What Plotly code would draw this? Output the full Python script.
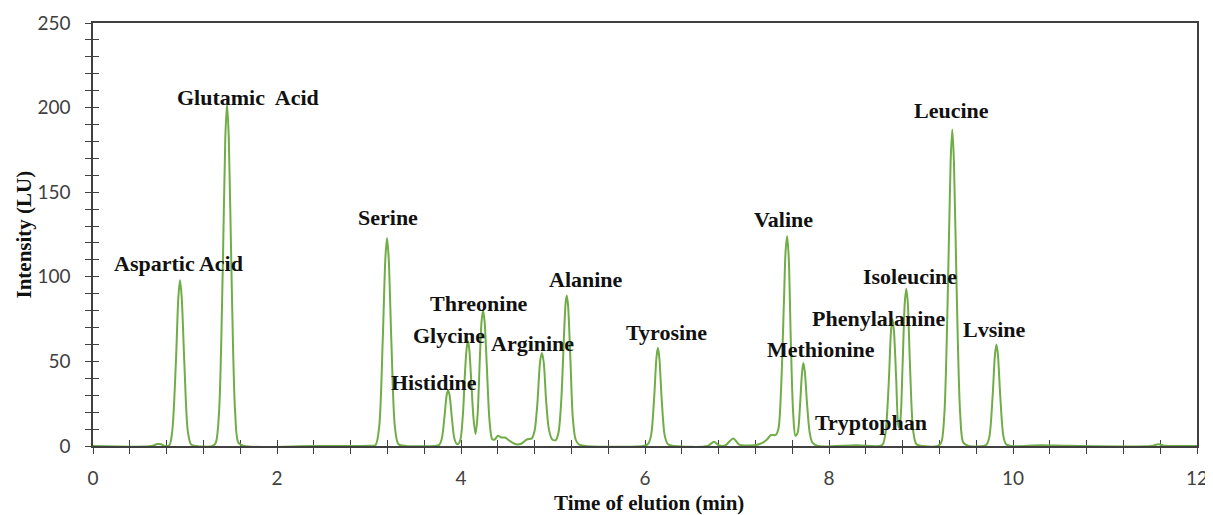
import plotly.graph_objects as go

# ---- chromatogram trace (time in min, intensity in LU) ----
time_min = [
    0.00, 0.64, 0.70, 0.74, 0.78,
    0.83, 0.86, 0.90, 0.928, 0.946, 0.964, 0.993, 1.03, 1.065, 1.12,
    1.30, 1.335, 1.37, 1.41, 1.438, 1.457, 1.476, 1.505, 1.545, 1.58, 1.64,
    2.40, 3.00,
    3.07, 3.11, 3.149, 3.178, 3.196, 3.214, 3.243, 3.282, 3.32, 3.40,
    3.70,
    3.76, 3.79, 3.82, 3.844, 3.86, 3.876, 3.90, 3.93, 3.96,
    3.99, 4.02, 4.045, 4.062, 4.076, 4.09, 4.112, 4.135, 4.158,
    4.18, 4.205, 4.224, 4.24, 4.256, 4.28, 4.31, 4.34,
    4.37, 4.40, 4.44, 4.48, 4.53, 4.60, 4.66, 4.72, 4.77,
    4.80, 4.83, 4.86, 4.88, 4.90, 4.925, 4.955, 4.99, 5.03,
    5.06, 5.09, 5.12, 5.138, 5.15, 5.164, 5.19, 5.215, 5.245, 5.28, 5.35,
    5.98,
    6.03, 6.065, 6.10, 6.124, 6.14, 6.156, 6.18, 6.215, 6.25, 6.32,
    6.68, 6.75, 6.80, 6.87, 6.96, 7.02, 7.10, 7.24, 7.32, 7.37, 7.42,
    7.45, 7.48, 7.51, 7.528, 7.545, 7.562, 7.585, 7.61, 7.635,
    7.66, 7.685, 7.705, 7.72, 7.737, 7.76, 7.79, 7.82, 7.88,
    8.30, 8.55,
    8.585, 8.615, 8.65, 8.674, 8.69, 8.706, 8.73, 8.755,
    8.775, 8.80, 8.824, 8.84, 8.856, 8.88, 8.915, 8.95, 9.02,
    9.18, 9.22, 9.254, 9.293, 9.322, 9.34, 9.358, 9.387, 9.426, 9.46, 9.52,
    9.68, 9.715, 9.745, 9.779, 9.804, 9.82, 9.836, 9.861, 9.895, 9.925, 9.98,
    10.30, 10.60, 11.50, 11.58, 11.65, 12.00,
]
intensity_lu = [
    0, 0, 1.2, 1.0, 0,
    0.5, 8, 48, 88, 98, 88, 49, 9, 1, 0,
    0, 2, 20, 103, 182, 202, 182, 103, 20, 2, 0,
    0, 0.2,
    0.5, 11, 62, 111, 123, 111, 62, 11, 1, 0,
    0,
    0.5, 4, 17, 30, 33, 30, 17, 4, 1,
    3, 18, 45, 58, 62, 57, 38, 17, 7,
    18, 52, 74, 80, 74, 48, 15, 4,
    4, 6, 5, 5, 3, 1, 1.5, 4, 4.5,
    9, 25, 50, 55, 49, 27, 10, 4, 3.5,
    8, 27, 66, 85, 89, 83, 50, 17, 4, 1, 0,
    0,
    1, 6, 29, 52, 58, 52, 29, 6, 1, 0,
    0, 2.5, 0.5, 0.3, 4.5, 1, 0.3, 1, 3.5, 6.5, 6.5,
    10, 35, 85, 115, 124, 112, 62, 20, 6,
    8, 24, 42, 49, 44, 26, 8, 2, 0,
    0.5, 0,
    1, 8, 38, 68, 75, 68, 40, 11,
    15, 48, 85, 93, 85, 48, 9, 1, 0,
    0, 2, 19, 94, 168, 187, 168, 94, 19, 2, 0,
    0, 1, 6, 30, 54, 60, 54, 30, 6, 1, 0,
    0.4, 0.1, 0, 1, 0.2, 0,
]

# ---- peak labels ----
label_names = ["Aspartic Acid", "Glutamic  Acid", "Serine", "Histidine", "Glycine",
               "Threonine", "Arginine", "Alanine", "Tyrosine", "Valine",
               "Methionine", "Tryptophan", "Phenylalanine", "Isoleucine",
               "Leucine", "Lvsine"]
label_x = [0.924, 1.685, 3.207, 3.707, 3.87, 4.196, 4.775, 5.36, 6.23, 7.50,
           7.91, 8.457, 8.54, 8.875, 9.33, 9.80]
label_y = [107.6, 205.7, 134.8, 37.8, 65.6, 84.5, 60.3, 98.7, 66.8, 133.6,
           57.3, 13.6, 75.6, 99.9, 198.2, 68.6]

# ---- axis ticks ----
x_tick_vals = [round(i * 0.4, 1) for i in range(31)]
x_tick_text = [("%g" % v) if abs(v / 2 - round(v / 2)) < 1e-9 else "" for v in x_tick_vals]
y_tick_vals = list(range(0, 251, 10))
y_tick_text = [str(v) if v % 50 == 0 else "" for v in y_tick_vals]

AX = "#404040"
LABEL_FONT = dict(family="Lato, 'Liberation Sans', sans-serif", size=19, color="#404040")
SERIF = "'Liberation Serif', 'Times New Roman', serif"

fig = go.Figure()
fig.add_trace(go.Scatter(
    x=time_min, y=intensity_lu, mode="lines",
    line=dict(color="#70AD47", width=2, shape="spline", smoothing=0.8),
    hoverinfo="skip", showlegend=False,
))
# empty helper trace so the overlay axes (inner half of the crossing ticks) are drawn
fig.add_trace(go.Scatter(x=[None], y=[None], xaxis="x2", yaxis="y2",
                         mode="lines", hoverinfo="skip", showlegend=False))

for name, lx, ly in zip(label_names, label_x, label_y):
    fig.add_annotation(x=lx, y=ly, text="<b>%s</b>" % name, showarrow=False,
                       font=dict(family=SERIF, size=22, color="#111111"),
                       xanchor="center", yanchor="middle")

fig.add_annotation(xref="paper", yref="paper", x=-0.0634, y=0.5,
                   text="<b>Intensity (LU)</b>", textangle=-90, showarrow=False,
                   font=dict(family=SERIF, size=21, color="#111111"),
                   xanchor="center", yanchor="middle")
fig.add_annotation(xref="paper", yref="paper", x=0.504, y=-0.135,
                   text="<b>Time of elution (min)</b>", showarrow=False,
                   font=dict(family=SERIF, size=21, color="#111111"),
                   xanchor="center", yanchor="middle")

common_x = dict(range=[0, 12], tickmode="array", tickvals=x_tick_vals,
                showgrid=False, zeroline=False, fixedrange=True)
common_y = dict(range=[0, 250], tickmode="array", tickvals=y_tick_vals,
                showgrid=False, zeroline=False, fixedrange=True)

fig.update_layout(
    width=1205, height=507,
    margin=dict(l=85, r=16, t=15, b=69, autoexpand=False),
    paper_bgcolor="white", plot_bgcolor="white",
    showlegend=False,
    xaxis=dict(**common_x, ticktext=x_tick_text, ticks="outside", ticklen=6,
               tickwidth=1.3, tickcolor=AX, showline=True, linecolor=AX,
               linewidth=1.5, mirror=True, tickfont=LABEL_FONT,
               ticklabelstandoff=8, ticklabeloverflow="allow",
               layer="below traces"),
    yaxis=dict(**common_y, ticktext=y_tick_text, ticks="outside", ticklen=6,
               tickwidth=1.3, tickcolor=AX, showline=True, linecolor=AX,
               linewidth=1.5, mirror=True, tickfont=LABEL_FONT,
               ticklabelstandoff=11, ticklabeloverflow="allow",
               layer="below traces"),
    xaxis2=dict(**common_x, overlaying="x", matches="x", anchor="y",
                side="bottom", ticks="inside", ticklen=6, tickwidth=1.3,
                tickcolor=AX, showticklabels=False, showline=False,
                layer="below traces"),
    yaxis2=dict(**common_y, overlaying="y", matches="y", anchor="x",
                side="left", ticks="inside", ticklen=6, tickwidth=1.3,
                tickcolor=AX, showticklabels=False, showline=False,
                layer="below traces"),
)

fig.write_html("out.html")
